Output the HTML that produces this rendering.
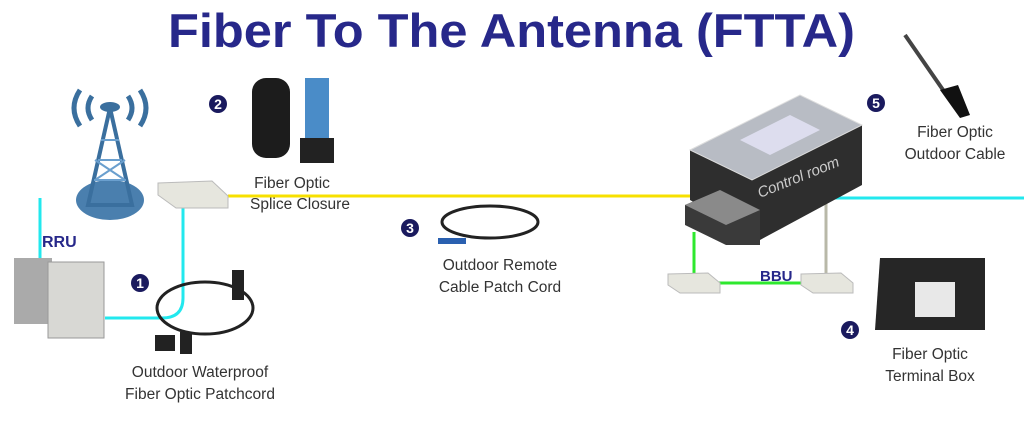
<!DOCTYPE html>
<html><head><meta charset="utf-8"><style>
html,body{margin:0;padding:0;background:#fff;}
svg{display:block;font-family:"Liberation Sans",sans-serif;}
.t{font-size:15.5px;fill:#333;text-anchor:middle;}
.n{fill:#1a1a5e;}
.nt{fill:#fff;font-size:14px;font-weight:bold;text-anchor:middle;}
</style></head><body>
<svg width="1024" height="427" viewBox="0 0 1024 427">
<text x="168" y="47" textLength="687" lengthAdjust="spacingAndGlyphs" font-size="47" font-weight="bold" fill="#27288a">Fiber To The Antenna (FTTA)</text>

<!-- lines -->
<polyline points="40,198 40,258" fill="none" stroke="#22e8ee" stroke-width="3"/>
<path d="M105,318 L162,318 Q183,318 183,298 L183,208" fill="none" stroke="#22e8ee" stroke-width="3"/>
<line x1="228" y1="196" x2="692" y2="196" stroke="#f7e000" stroke-width="3"/>
<line x1="830" y1="198" x2="1024" y2="198" stroke="#22e8ee" stroke-width="3"/>
<line x1="826" y1="198" x2="826" y2="274" stroke="#b8b8a8" stroke-width="3"/>
<polyline points="694,232 694,276" fill="none" stroke="#2ee82e" stroke-width="3"/>
<line x1="716" y1="283" x2="805" y2="283" stroke="#2ee82e" stroke-width="3"/>

<!-- splice box -->
<polygon points="158,183 212,181 228,196 228,208 176,208 158,195" fill="#e6e6de" stroke="#bbb"/>
<!-- BBU boxes -->
<polygon points="668,274 708,273 720,283 720,293 680,293 668,285" fill="#e6e6de" stroke="#bbb"/>
<polygon points="801,274 841,273 853,283 853,293 813,293 801,285" fill="#e6e6de" stroke="#bbb"/>

<!-- tower -->
<ellipse cx="110" cy="200" rx="34" ry="20" fill="#4a7fae"/>
<polygon points="110,108 88,205 132,205" fill="none" stroke="#3a6f9e" stroke-width="4"/>
<path d="M98,160 L122,160 M94,180 L126,180 M101,140 L119,140 M95,160 L125,180 M125,160 L95,180" stroke="#6a9fce" stroke-width="2"/>
<ellipse cx="110" cy="107" rx="10" ry="5" fill="#3a6f9e"/>
<path d="M92,96 Q84,108 92,120 M80,90 Q68,108 80,126 M128,96 Q136,108 128,120 M140,90 Q152,108 140,126" fill="none" stroke="#3a6f9e" stroke-width="5"/>
<text x="42" y="247" font-size="16" font-weight="bold" fill="#27288a">RRU</text>

<!-- RRU -->
<rect x="14" y="258" width="38" height="66" fill="#aaa"/>
<rect x="48" y="262" width="56" height="76" fill="#d8d8d4" stroke="#999"/>

<!-- patchcord -->
<ellipse cx="205" cy="308" rx="48" ry="26" fill="none" stroke="#222" stroke-width="3"/>
<rect x="232" y="270" width="12" height="30" fill="#222"/>
<rect x="155" y="335" width="20" height="16" fill="#222"/>
<rect x="180" y="332" width="12" height="22" fill="#222"/>

<!-- splice closure -->
<rect x="252" y="78" width="38" height="80" rx="14" fill="#1c1c1c"/>
<rect x="305" y="78" width="24" height="60" fill="#4a8cc8"/>
<rect x="300" y="138" width="34" height="25" fill="#222"/>

<!-- patch cord 3 -->
<ellipse cx="490" cy="222" rx="48" ry="16" fill="none" stroke="#222" stroke-width="3"/>
<rect x="438" y="238" width="28" height="6" fill="#2a60b0"/>

<!-- building -->
<polygon points="690,150 800,95 862,125 862,185 760,240 690,200" fill="#2e2e2e"/>
<polygon points="690,150 800,95 862,125 752,180" fill="#b8bcc4" stroke="#ddd"/>
<polygon points="740,140 790,115 820,130 770,155" fill="#dde"/>
<polygon points="685,205 720,190 760,210 760,245 726,245 685,225" fill="#3a3a3a"/>
<polygon points="685,205 720,190 760,210 726,225" fill="#8a8a8a"/>
<text x="760" y="198" font-size="15" fill="#ccc" transform="rotate(-22 760 198)" font-style="italic">Control room</text>
<text x="760" y="281" font-size="15" font-weight="bold" fill="#27288a">BBU</text>

<!-- cable 5 -->
<line x1="905" y1="35" x2="950" y2="100" stroke="#444" stroke-width="4"/>
<polygon points="940,90 958,85 970,115 960,118" fill="#111"/>

<!-- terminal box -->
<polygon points="880,258 985,258 985,330 875,330" fill="#262626"/>
<rect x="915" y="282" width="40" height="35" fill="#e8e8e8"/>

<!-- numbers -->
<circle class="n" cx="140" cy="283" r="9"/><text class="nt" x="140" y="288">1</text>
<circle class="n" cx="218" cy="104" r="9"/><text class="nt" x="218" y="109">2</text>
<circle class="n" cx="410" cy="228" r="9"/><text class="nt" x="410" y="233">3</text>
<circle class="n" cx="850" cy="330" r="9"/><text class="nt" x="850" y="335">4</text>
<circle class="n" cx="876" cy="103" r="9"/><text class="nt" x="876" y="108">5</text>

<!-- labels -->
<text class="t" x="292" y="188">Fiber Optic</text>
<text class="t" x="300" y="209">Splice Closure</text>
<text class="t" x="500" y="270">Outdoor Remote</text>
<text class="t" x="500" y="292">Cable Patch Cord</text>
<text class="t" x="200" y="377">Outdoor Waterproof</text>
<text class="t" x="200" y="399">Fiber Optic Patchcord</text>
<text class="t" x="955" y="137">Fiber Optic</text>
<text class="t" x="955" y="159">Outdoor Cable</text>
<text class="t" x="930" y="359">Fiber Optic</text>
<text class="t" x="930" y="381">Terminal Box</text>
</svg>
</body></html>
